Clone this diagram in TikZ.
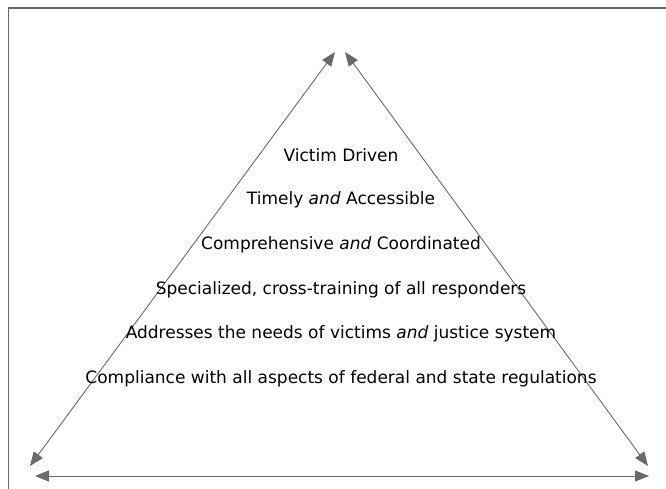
\documentclass[tikz,border=0pt]{standalone}
\usepackage{fontspec}
\setmainfont{DejaVu Sans}
\usetikzlibrary{arrows.meta}
\definecolor{linegray}{RGB}{105,105,110}
\tikzset{
	principle/.style={anchor=center, font=\fontsize{17}{19}\selectfont, inner sep=0pt},
	side/.style={color=linegray, line width=0.9pt, {Triangle[length=14pt,width=11pt]}-{Triangle[length=14pt,width=11pt]}}
}

\begin{document}
\begin{tikzpicture}[x=1pt, y=-1pt]
	\useasboundingbox (0,0) rectangle (666,489);
	\draw[color=linegray, line width=1.2pt] (8.5,489) -- (8.5,8) -- (666,8);
	% corners of the triangle
	\coordinate (apexl) at (335,52);
	\coordinate (apexr) at (345,52);
	\coordinate (left) at (30,466);
	\coordinate (right) at (648,466);
	\coordinate (basel) at (35,476);
	\coordinate (baser) at (649,476);
	\draw[side] (left) -- (apexl);
	\draw[side] (apexr) -- (right);
	\draw[side] (basel) -- (baser);
	% principles
	\node[principle] (driven) at (341,155) {Victim Driven};
	\node[principle] (timely) at (341,200) {Timely \emph{and} Accessible};
	\node[principle] (compr) at (341,245) {Comprehensive \emph{and} Coordinated};
	\node[principle] (special) at (341,290) {Specialized, cross-training of all responders};
	\node[principle] (needs) at (341,334) {Addresses the needs of victims \emph{and} justice system};
	\node[principle] (comply) at (341,379) {Compliance with all aspects of federal and state regulations};
\end{tikzpicture}
\end{document}
